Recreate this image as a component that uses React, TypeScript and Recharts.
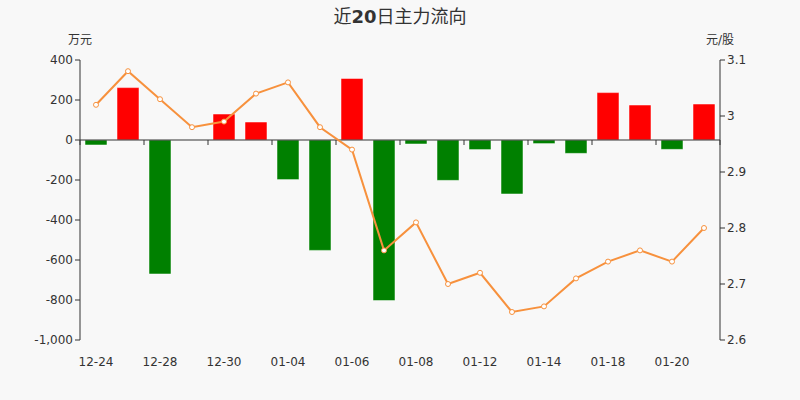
import React from 'react'
import { ComposedChart, Bar, Line, XAxis, YAxis, ReferenceLine, Cell } from 'recharts'

// dates shown on the x axis (every other one gets a label)
const dates = [
  '12-24', '12-25', '12-28', '12-29', '12-30', '12-31', '01-04', '01-05', '01-06', '01-07',
  '01-08', '01-11', '01-12', '01-13', '01-14', '01-15', '01-18', '01-19', '01-20', '01-21',
]

// main net inflow, 万元
const netFlow = [
  -25, 262, -670, 0, 130, 90, -198, -552, 308, -803,
  -20, -202, -48, -270, -18, -67, 237, 175, -47, 180,
]

// close price, 元/股
const closePrice = [
  3.02, 3.08, 3.03, 2.98, 2.99, 3.04, 3.06, 2.98, 2.94, 2.76,
  2.81, 2.7, 2.72, 2.65, 2.66, 2.71, 2.74, 2.76, 2.74, 2.8,
]

const flowTicks = [-1000, -800, -600, -400, -200, 0, 200, 400]
const priceTicks = [2.6, 2.7, 2.8, 2.9, 3, 3.1]

const UP = '#ff0000'
const DOWN = '#008000'
const LINE = '#f7913d'
const AXIS = '#333'

const data = dates.map((d, i) => ({ date: d, flow: netFlow[i], price: closePrice[i] }))

const fmtFlow = (v: number) => v.toLocaleString('en-US')
const fmtPrice = (v: number) => String(Number(v.toFixed(1)))

function DateTick(props: any) {
  const { x, y, payload } = props
  return (
    <text x={x} y={y} dy={18} textAnchor="middle" fill={AXIS} fontSize={12}>
      {payload.value}
    </text>
  )
}

// x axis line drawn on zero, with tick marks between every second category
function ZeroAxis(props: any) {
  const { x1, x2, y1 } = props
  const step = ((x2 - x1) / dates.length) * 2
  const marks = []
  for (let k = 0; k <= dates.length / 2; k++) {
    const x = x1 + step * k
    marks.push(<line key={k} x1={x} x2={x} y1={y1} y2={y1 + 5} stroke={AXIS} strokeWidth={1} />)
  }
  return (
    <g>
      <line x1={x1} x2={x2} y1={y1} y2={y1} stroke={AXIS} strokeWidth={1} />
      {marks}
    </g>
  )
}

export default function App() {
  return (
    <div
      style={{
        position: 'absolute',
        left: 0,
        top: 0,
        width: 800,
        height: 400,
        background: '#f8f8f8',
        fontFamily: '"DejaVu Sans", "Noto Sans CJK SC", sans-serif',
        color: AXIS,
      }}
    >
      <div style={{ position: 'absolute', top: 2, width: 800, textAlign: 'center', fontSize: 18 }}>
        近<b>20</b>日主力流向
      </div>
      <div style={{ position: 'absolute', top: 30, left: 68, fontSize: 12 }}>万元</div>
      <div style={{ position: 'absolute', top: 30, left: 706, fontSize: 12 }}>元/股</div>
      <ComposedChart width={800} height={400} data={data} margin={{ top: 60, right: 20, bottom: 30, left: 20 }}>
        <XAxis
          dataKey="date"
          axisLine={false}
          tickLine={false}
          interval={1}
          height={30}
          tick={<DateTick />}
        />
        <YAxis
          yAxisId="flow"
          domain={[-1000, 400]}
          ticks={flowTicks}
          tickFormatter={fmtFlow}
          width={60}
          tickSize={5}
          axisLine={{ stroke: AXIS }}
          tickLine={{ stroke: AXIS }}
          tick={{ fill: AXIS, fontSize: 12 }}
        />
        <YAxis
          yAxisId="price"
          orientation="right"
          domain={[2.6, 3.1]}
          ticks={priceTicks}
          tickFormatter={fmtPrice}
          width={60}
          tickSize={5}
          axisLine={{ stroke: AXIS }}
          tickLine={{ stroke: AXIS }}
          tick={{ fill: AXIS, fontSize: 12 }}
        />
        <Bar
          yAxisId="flow"
          dataKey="flow"
          barSize={22}
          stroke="rgba(255,255,255,0.5)"
          strokeWidth={1}
          isAnimationActive={false}
        >
          {data.map((d, i) => (
            <Cell key={i} fill={d.flow >= 0 ? UP : DOWN} />
          ))}
        </Bar>
        <ReferenceLine yAxisId="flow" y={0} shape={(p: any) => <ZeroAxis {...p} />} />
        <Line
          yAxisId="price"
          type="linear"
          dataKey="price"
          stroke={LINE}
          strokeWidth={2}
          dot={{ r: 2.5, fill: '#fff', stroke: LINE, strokeWidth: 1 }}
          activeDot={false}
          isAnimationActive={false}
        />
      </ComposedChart>
    </div>
  )
}
